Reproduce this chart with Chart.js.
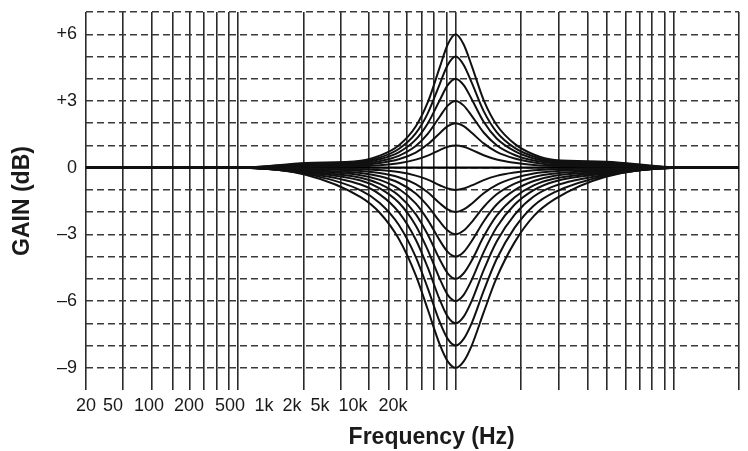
<!DOCTYPE html>
<html>
<head>
<meta charset="utf-8">
<script src="https://cdn.jsdelivr.net/npm/chart.js@4.4.1/dist/chart.umd.min.js"></script>
<style>
  html, body { margin: 0; padding: 0; background: #fff; }
  #wrap { width: 748px; height: 451px; }
</style>
</head>
<body>
<div id="wrap"><canvas id="eqChart"></canvas></div>
<script>
// Positions along the frequency axis (0 = left edge, 100 = right edge)
const gridX = [0, 5.62, 10.06, 13.22, 15.82, 18.02, 20.02, 21.85, 23.17, 33.43, 39.0,
  43.38, 46.36, 49.2, 51.41, 53.25, 55.18, 56.62, 66.57, 72.43, 76.83, 79.83, 82.65,
  84.79, 86.63, 88.62, 89.94, 100];

// Frequency labels as printed under the graph
const freqLabels = ["20", "50", "100", "200", "500", "1k", "2k", "5k", "10k", "20k"];
const freqLabelPos = [0, 4.13, 9.65, 15.77, 22.05, 27.26, 31.55, 35.83, 40.89, 47.01];

// Gain ticks
const gainTicks = [6, 3, 0, -3, -6, -9];
const gainTickText = ["+6", "+3", "0", "\u20133", "\u20136", "\u20139"];

const sampleX = [0, 23.69, 33.64, 42.07, 44.98, 47.89, 50.49, 52.33, 54.17, 55.39, 56.62,
  57.84, 59.07, 60.9, 62.89, 65.65, 68.56, 71.78, 79.59, 91.07, 100];

// Curves (dB)
const flat   = [0, 0, 0, 0, 0, 0, 0, 0, 0, 0, 0, 0, 0, 0, 0, 0, 0, 0, 0, 0, 0];
const boost6 = [0, 0, 0.21, 0.31, 0.54, 1.00, 1.85, 2.93, 4.51, 5.54, 6, 5.54, 4.58, 3.04, 1.92, 1.07, 0.59, 0.34, 0.27, 0, 0];
const boost5 = [0, 0, 0.18, 0.26, 0.45, 0.84, 1.54, 2.44, 3.76, 4.62, 5, 4.62, 3.82, 2.54, 1.60, 0.89, 0.50, 0.29, 0.23, 0, 0];
const boost4 = [0, 0, 0.14, 0.22, 0.38, 0.69, 1.26, 1.99, 3.03, 3.71, 4, 3.71, 3.08, 2.06, 1.31, 0.74, 0.41, 0.24, 0.18, 0, 0];
const boost3 = [0, 0, 0.11, 0.17, 0.29, 0.53, 0.97, 1.52, 2.29, 2.79, 3, 2.79, 2.33, 1.58, 1.01, 0.57, 0.32, 0.19, 0.14, 0, 0];
const boost2 = [0, 0, 0.07, 0.12, 0.21, 0.38, 0.68, 1.05, 1.55, 1.87, 2, 1.87, 1.57, 1.09, 0.71, 0.41, 0.23, 0.13, 0.09, 0, 0];
const boost1 = [0, 0, 0.04, 0.07, 0.11, 0.20, 0.36, 0.54, 0.79, 0.94, 1, 0.94, 0.80, 0.56, 0.37, 0.22, 0.12, 0.07, 0.05, 0, 0];
const cut1 = [0, 0, -0.04, -0.07, -0.11, -0.20, -0.36, -0.54, -0.79, -0.94, -1, -0.94, -0.80, -0.56, -0.37, -0.22, -0.12, -0.07, -0.05, 0, 0];
const cut2 = [0, 0, -0.07, -0.15, -0.24, -0.43, -0.74, -1.11, -1.60, -1.88, -2, -1.88, -1.62, -1.15, -0.77, -0.46, -0.26, -0.16, -0.09, 0, 0];
const cut3 = [0, 0, -0.11, -0.24, -0.39, -0.68, -1.16, -1.72, -2.42, -2.83, -3, -2.83, -2.45, -1.77, -1.20, -0.72, -0.42, -0.26, -0.14, 0, 0];
const cut4 = [0, 0, -0.14, -0.34, -0.55, -0.95, -1.61, -2.35, -3.27, -3.79, -4, -3.79, -3.30, -2.42, -1.66, -1.01, -0.60, -0.36, -0.18, 0, 0];
const cut5 = [0, 0, -0.18, -0.45, -0.73, -1.25, -2.09, -3.01, -4.13, -4.75, -5, -4.75, -4.18, -3.10, -2.16, -1.33, -0.80, -0.49, -0.23, 0, 0];
const cut6 = [0, 0, -0.21, -0.58, -0.93, -1.57, -2.60, -3.70, -5.00, -5.72, -6, -5.72, -5.05, -3.80, -2.68, -1.66, -1.01, -0.62, -0.27, 0, 0];
const cut7 = [0, 0, -0.25, -0.76, -1.20, -2.00, -3.23, -4.49, -5.94, -6.70, -7, -6.70, -5.99, -4.61, -3.32, -2.11, -1.30, -0.82, -0.32, 0, 0];
const cut8 = [0, 0, -0.28, -1.02, -1.59, -2.57, -4.01, -5.42, -6.94, -7.70, -8, -7.70, -6.99, -5.54, -4.11, -2.70, -1.71, -1.10, -0.36, 0, 0];
const cut9 = [0, 0, -0.32, -1.33, -2.03, -3.20, -4.83, -6.37, -7.95, -8.71, -9, -8.71, -8.00, -6.51, -4.95, -3.35, -2.18, -1.42, -0.41, 0, 0];

const curves = [boost6, boost5, boost4, boost3, boost2, boost1,
  cut1, cut2, cut3, cut4, cut5, cut6, cut7, cut8, cut9];

const FONT = "'Liberation Sans', Arial, Helvetica, sans-serif";

function toPoints(vals) {
  return sampleX.map((x, i) => ({ x: x, y: vals[i] }));
}

const datasets = curves.map((c) => ({
  data: toPoints(c),
  borderColor: "#111",
  borderWidth: 2,
  pointRadius: 0,
  fill: false,
  cubicInterpolationMode: "monotone",
}));
// flat 0 dB line drawn a bit heavier
datasets.push({
  data: toPoints(flat),
  borderColor: "#000",
  borderWidth: 2.4,
  pointRadius: 0,
  fill: false,
});

// grid ticks + label ticks on one axis
const xTicks = gridX.map((v) => ({ value: v }))
  .concat(freqLabelPos.map((v, i) => ({ value: v, lab: freqLabels[i] })));

const ctx = document.getElementById("eqChart").getContext("2d");

new Chart(ctx, {
  type: "line",
  data: { datasets: datasets },
  options: {
    responsive: true,
    maintainAspectRatio: false,
    animation: false,
    events: [],
    layout: { padding: { top: 12, right: 9, left: 5, bottom: 0 } },
    plugins: { legend: { display: false }, tooltip: { enabled: false } },
    scales: {
      x: {
        type: "linear",
        min: 0,
        max: 100,
        afterBuildTicks: (scale) => { scale.ticks = xTicks.map((t) => Object.assign({}, t)); },
        afterFit: (scale) => { scale.height = 61; },
        border: { display: false, dash: [] },
        grid: {
          drawTicks: false,
          lineWidth: 1.6,
          color: (c) => (c.tick && c.tick.lab !== undefined ? "rgba(0,0,0,0)" : "#2a2a2a"),
        },
        ticks: {
          autoSkip: false,
          maxRotation: 0,
          minRotation: 0,
          padding: 5,
          color: "#1a1a1a",
          font: { family: FONT, size: 18 },
          callback: (v, i, ticks) => (ticks[i].lab !== undefined ? ticks[i].lab : ""),
        },
        title: {
          display: true,
          text: "      Frequency (Hz)",
          color: "#1a1a1a",
          font: { family: FONT, size: 23, weight: "bold" },
          padding: { top: 0, bottom: 0 },
        },
      },
      y: {
        min: -10,
        max: 7,
        afterFit: (scale) => {
          scale.width = 81;
          scale.paddingTop = 0;
          scale.paddingBottom = 0;
        },
        border: { display: false, dash: [7, 4] },
        grid: {
          drawTicks: false,
          lineWidth: 1.4,
          color: (c) => (c.tick && c.tick.value === -10 ? "rgba(0,0,0,0)" : "#3a3a3a"),
        },
        ticks: {
          stepSize: 1,
          autoSkip: false,
          padding: 9,
          color: "#1a1a1a",
          font: { family: FONT, size: 18 },
          callback: (v) => {
            const k = gainTicks.indexOf(v);
            return k >= 0 ? gainTickText[k] : "";
          },
        },
        title: {
          display: true,
          text: "GAIN (dB)",
          color: "#1a1a1a",
          font: { family: FONT, size: 23, weight: "bold" },
          padding: { top: 4, bottom: 0 },
        },
      },
    },
  },
});
</script>
</body>
</html>
